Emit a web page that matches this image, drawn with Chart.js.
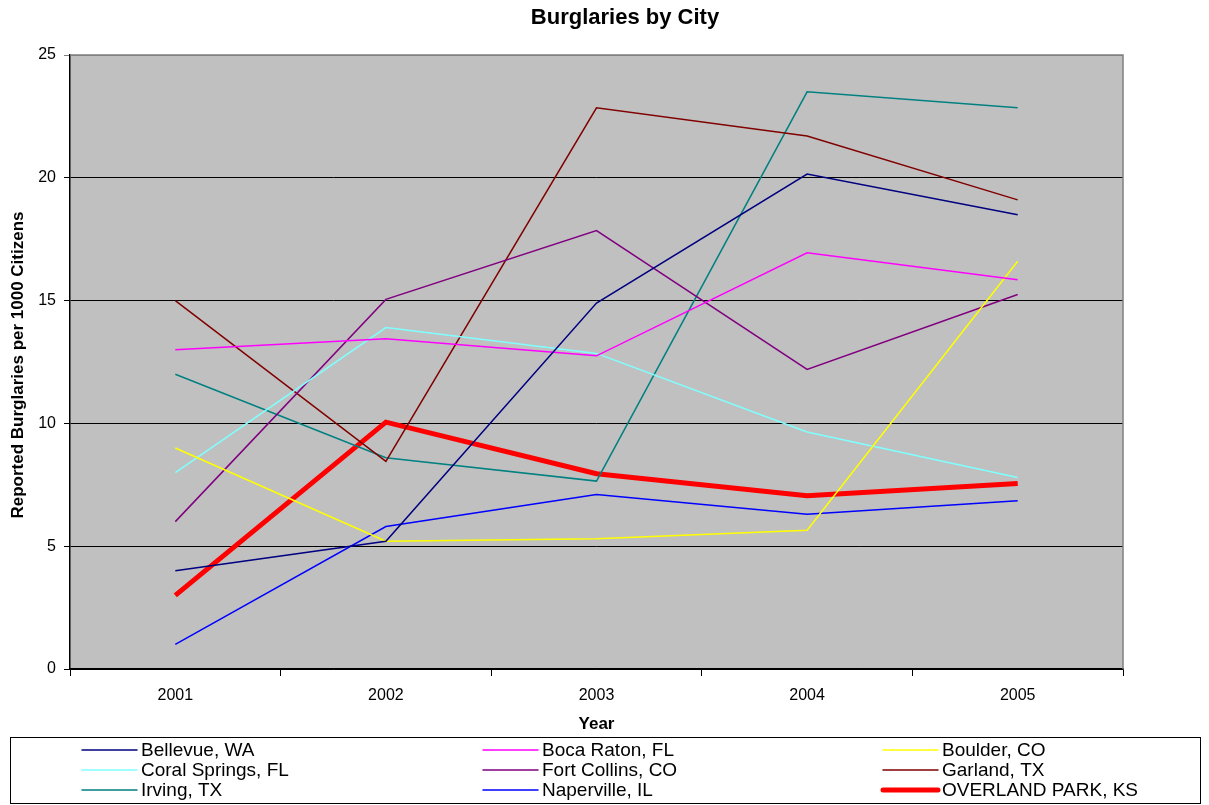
<!DOCTYPE html>
<html>
<head>
<meta charset="utf-8">
<script src="https://cdn.jsdelivr.net/npm/chart.js@4.4.0/dist/chart.umd.min.js"></script>
<style>
  html, body { margin: 0; padding: 0; background: #fff; }
  #wrap { width: 1209px; height: 805px; }
</style>
</head>
<body>
<div id="wrap"><canvas id="burglaryChart" width="1209" height="805"></canvas></div>
<script>
const years = ['2001', '2002', '2003', '2004', '2005']

const bellevue = [4.0, 5.2, 14.9, 20.15, 18.5]
const bocaRaton = [13.0, 13.45, 12.75, 16.95, 15.85]
const boulder = [9.0, 5.2, 5.3, 5.65, 16.6]
const coralSprings = [8.0, 13.9, 12.85, 9.65, 7.8]
const fortCollins = [6.0, 15.05, 17.85, 12.2, 15.25]
const garland = [15.0, 8.45, 22.85, 21.7, 19.1]
const irving = [12.0, 8.6, 7.65, 23.5, 22.85]
const naperville = [1.0, 5.8, 7.1, 6.3, 6.85]
const overlandPark = [3.0, 10.05, 7.95, 7.05, 7.55]

const yTicks = [0, 5, 10, 15, 20, 25]

const mkLine = (label, data, color, width) => ({
    label: label,
    data: data,
    borderColor: color,
    backgroundColor: color,
    borderWidth: width,
    pointRadius: 0,
    tension: 0,
    fill: false
})

const datasets = [
    mkLine('Bellevue, WA', bellevue, '#000080', 1.5),
    mkLine('Boca Raton, FL', bocaRaton, '#FF00FF', 1.5),
    mkLine('Boulder, CO', boulder, '#FFFF00', 1.5),
    mkLine('Coral Springs, FL', coralSprings, '#80FFFF', 1.5),
    mkLine('Fort Collins, CO', fortCollins, '#800080', 1.5),
    mkLine('Garland, TX', garland, '#800000', 1.5),
    mkLine('Irving, TX', irving, '#008080', 1.5),
    mkLine('Naperville, IL', naperville, '#0000FF', 1.5),
    mkLine('OVERLAND PARK, KS', overlandPark, '#FF0000', 5)
]

// gray plot area + gray top/right border
const plotBg = {
    id: 'plotBg',
    beforeDraw(chart) {
        const { ctx, chartArea: a } = chart
        ctx.save()
        ctx.fillStyle = '#C0C0C0'
        ctx.fillRect(a.left, a.top, a.right - a.left, a.bottom - a.top)
        ctx.restore()
    },
    afterDatasetsDraw(chart) {
        const { ctx, chartArea: a } = chart
        ctx.save()
        ctx.strokeStyle = '#808080'
        ctx.lineWidth = 1.5
        ctx.beginPath()
        ctx.moveTo(a.left, a.top)
        ctx.lineTo(a.right, a.top)
        ctx.lineTo(a.right, a.bottom)
        ctx.stroke()
        ctx.restore()
    }
}

// title, axis titles and the boxed legend
const textBits = {
    id: 'textBits',
    afterDraw(chart) {
        const { ctx, chartArea: a } = chart
        ctx.save()
        ctx.fillStyle = '#000'
        ctx.textAlign = 'center'
        ctx.textBaseline = 'middle'
        ctx.font = 'bold 22px "Liberation Sans", Arial, sans-serif'
        ctx.fillText('Burglaries by City', 625, 18)

        ctx.font = 'bold 17px "Liberation Sans", Arial, sans-serif'
        ctx.fillText('Year', (a.left + a.right) / 2, 724)

        ctx.translate(18, 365)
        ctx.rotate(-Math.PI / 2)
        ctx.fillText('Reported Burglaries per 1000 Citizens', 0, 0)
        ctx.restore()

        // legend
        ctx.save()
        ctx.strokeStyle = '#000'
        ctx.lineWidth = 1
        ctx.strokeRect(10.5, 737.5, 1190, 66)
        const cols = [82, 483, 883]
        const rows = [750, 770, 790]
        ctx.font = '19px "Liberation Sans", Arial, sans-serif'
        ctx.textBaseline = 'middle'
        ctx.textAlign = 'left'
        ctx.lineCap = 'round'
        chart.data.datasets.forEach(function (ds, i) {
            const x = cols[i % 3]
            const y = rows[Math.floor(i / 3)]
            ctx.strokeStyle = ds.borderColor
            ctx.lineWidth = ds.borderWidth
            ctx.beginPath()
            ctx.moveTo(x, y)
            ctx.lineTo(x + 55, y)
            ctx.stroke()
            ctx.fillStyle = '#000'
            ctx.fillText(ds.label, x + 59, y + 1)
        })
        ctx.restore()
    }
}

const ctx = document.getElementById('burglaryChart')

new Chart(ctx, {
    type: 'line',
    data: {
        labels: years,
        datasets: datasets
    },
    plugins: [plotBg, textBits],
    options: {
        responsive: false,
        animation: false,
        layout: {
            padding: { top: 55, left: 0, right: 86, bottom: 0 }
        },
        plugins: {
            legend: { display: false },
            title: { display: false },
            tooltip: { enabled: false }
        },
        scales: {
            x: {
                type: 'category',
                offset: true,
                afterFit: function (scale) { scale.height = 136 },
                grid: {
                    offset: true,
                    drawOnChartArea: false,
                    drawTicks: true,
                    tickLength: 7,
                    color: '#000',
                    lineWidth: 1
                },
                border: { display: true, color: '#000', width: 1.5 },
                ticks: {
                    color: '#000',
                    padding: 10,
                    maxRotation: 0,
                    font: { family: '"Liberation Sans", Arial, sans-serif', size: 16 }
                }
            },
            y: {
                min: 0,
                max: 25,
                afterFit: function (scale) { scale.width = 70 },
                afterBuildTicks: function (scale) {
                    scale.ticks = yTicks.map(function (v) { return { value: v } })
                },
                grid: {
                    color: function (c) {
                        if (c.tick && c.tick.value === 25) return '#808080'
                        return '#000'
                    },
                    lineWidth: 1,
                    tickLength: 6,
                    drawTicks: true
                },
                border: { display: true, color: '#000', width: 1.5 },
                ticks: {
                    color: '#000',
                    padding: 8,
                    font: { family: '"Liberation Sans", Arial, sans-serif', size: 16 }
                }
            }
        }
    }
});
</script>
</body>
</html>
